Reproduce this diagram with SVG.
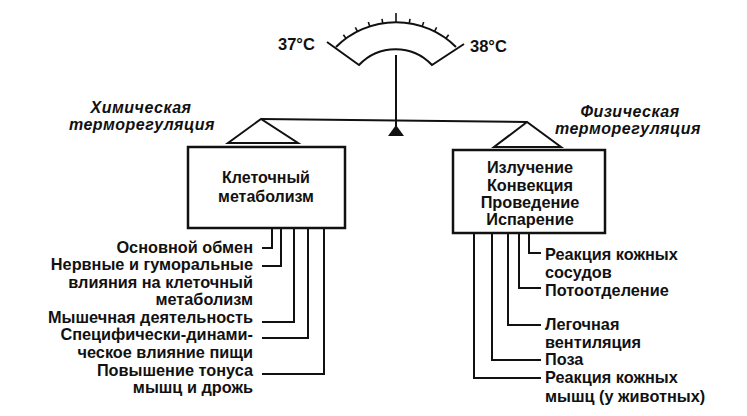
<svg xmlns="http://www.w3.org/2000/svg" width="747" height="416" viewBox="0 0 747 416">
<defs>
<style>
.ln{stroke:#111;stroke-width:2;fill:none;stroke-linejoin:miter}
.box{stroke:#111;stroke-width:2.5;fill:#fff}
.t{font-family:"Liberation Sans",Arial,sans-serif;font-size:16.3px;font-weight:bold;fill:#111}
.bt{font-family:"Liberation Sans",Arial,sans-serif;font-size:16px;font-weight:bold;fill:#111}
.it{font-family:"Liberation Sans",Arial,sans-serif;font-size:16px;font-weight:bold;font-style:italic;fill:#111;letter-spacing:0.5px}
.tk{stroke:#111;stroke-width:1.6}
</style>
</defs>
<rect width="747" height="416" fill="#fff"/>
<g id="gauge">
<path class="ln" d="M327,42 L359,65 A50,50 0 0 1 432,65 L464,44"/>
<path class="ln" d="M336,47 A85,85 0 0 1 456,47"/>
<g class="tk">
<line x1="396" y1="22.2" x2="396" y2="13"/>
<line x1="396" y1="22.2" x2="396" y2="17.7" transform="rotate(-36 396 107.2)"/>
<line x1="396" y1="22.2" x2="396" y2="17.7" transform="rotate(-27 396 107.2)"/>
<line x1="396" y1="22.2" x2="396" y2="17.7" transform="rotate(-18 396 107.2)"/>
<line x1="396" y1="22.2" x2="396" y2="17.7" transform="rotate(-9 396 107.2)"/>
<line x1="396" y1="22.2" x2="396" y2="17.7" transform="rotate(9 396 107.2)"/>
<line x1="396" y1="22.2" x2="396" y2="17.7" transform="rotate(18 396 107.2)"/>
<line x1="396" y1="22.2" x2="396" y2="17.7" transform="rotate(27 396 107.2)"/>
<line x1="396" y1="22.2" x2="396" y2="17.7" transform="rotate(36 396 107.2)"/>
</g>
<text class="t" x="278" y="50" style="font-size:16.5px">37°C</text>
<text class="t" x="470" y="52" style="font-size:16.5px">38°C</text>
</g>
<g id="balance">
<line class="ln" x1="396" y1="55" x2="396" y2="128"/>
<polygon points="396,125 388,136 404,136" fill="#111"/>
<line class="ln" x1="261" y1="119" x2="527" y2="122"/>
<polygon class="ln" points="261,119 228,143 298,143"/>
<polygon class="ln" points="527,122 494,147 561,147"/>
</g>
<g id="chem-label">
<text class="it" x="141" y="113" text-anchor="middle">Химическая</text>
<text class="it" x="142" y="130" text-anchor="middle">терморегуляция</text>
</g>
<g id="phys-label">
<text class="it" x="630" y="117" text-anchor="middle">Физическая</text>
<text class="it" x="628" y="134" text-anchor="middle">терморегуляция</text>
</g>
<g id="cell-metabolism">
<rect class="box" x="188" y="147" width="157" height="81"/>
<text class="bt" x="266" y="183" text-anchor="middle">Клеточный</text>
<text class="bt" x="266" y="202" text-anchor="middle">метаболизм</text>
</g>
<g id="physical-box">
<rect class="box" x="453" y="150" width="152" height="83"/>
<text class="t" x="530" y="173" text-anchor="middle">Излучение</text>
<text class="t" x="530" y="191" text-anchor="middle">Конвекция</text>
<text class="t" x="530" y="208" text-anchor="middle">Проведение</text>
<text class="t" x="530" y="225" text-anchor="middle">Испарение</text>
</g>
<g id="connectors">
<polyline class="ln" points="272,229 272,248 262,248"/>
<polyline class="ln" points="281,229 281,266 262,266"/>
<polyline class="ln" points="294,229 294,322 262,322"/>
<polyline class="ln" points="308,229 308,338 262,338"/>
<polyline class="ln" points="324,229 324,374 262,374"/>
<polyline class="ln" points="529,234 529,253 541,253"/>
<polyline class="ln" points="519,234 519,288 541,288"/>
<polyline class="ln" points="508,234 508,325 541,325"/>
<polyline class="ln" points="492,234 492,360 541,360"/>
<polyline class="ln" points="474,234 474,378 541,378"/>
</g>
<g id="left-items">
<text class="t" x="253" y="253" text-anchor="end">Основной обмен</text>
<text class="t" x="253" y="270" text-anchor="end">Нервные и гуморальные</text>
<text class="t" x="253" y="288" text-anchor="end">влияния на клеточный</text>
<text class="t" x="253" y="305" text-anchor="end">метаболизм</text>
<text class="t" x="253" y="323" text-anchor="end">Мышечная деятельность</text>
<text class="t" x="253" y="340" text-anchor="end">Специфически-динами-</text>
<text class="t" x="253" y="358" text-anchor="end">ческое влияние пищи</text>
<text class="t" x="253" y="376" text-anchor="end">Повышение тонуса</text>
<text class="t" x="253" y="393" text-anchor="end">мышц и дрожь</text>
</g>
<g id="right-items">
<text class="t" x="545" y="260">Реакция кожных</text>
<text class="t" x="545" y="278">сосудов</text>
<text class="t" x="545" y="296">Потоотделение</text>
<text class="t" x="545" y="330">Легочная</text>
<text class="t" x="545" y="348">вентиляция</text>
<text class="t" x="545" y="365">Поза</text>
<text class="t" x="545" y="383">Реакция кожных</text>
<text class="t" x="545" y="402">мышц (у животных)</text>
</g>
</svg>
